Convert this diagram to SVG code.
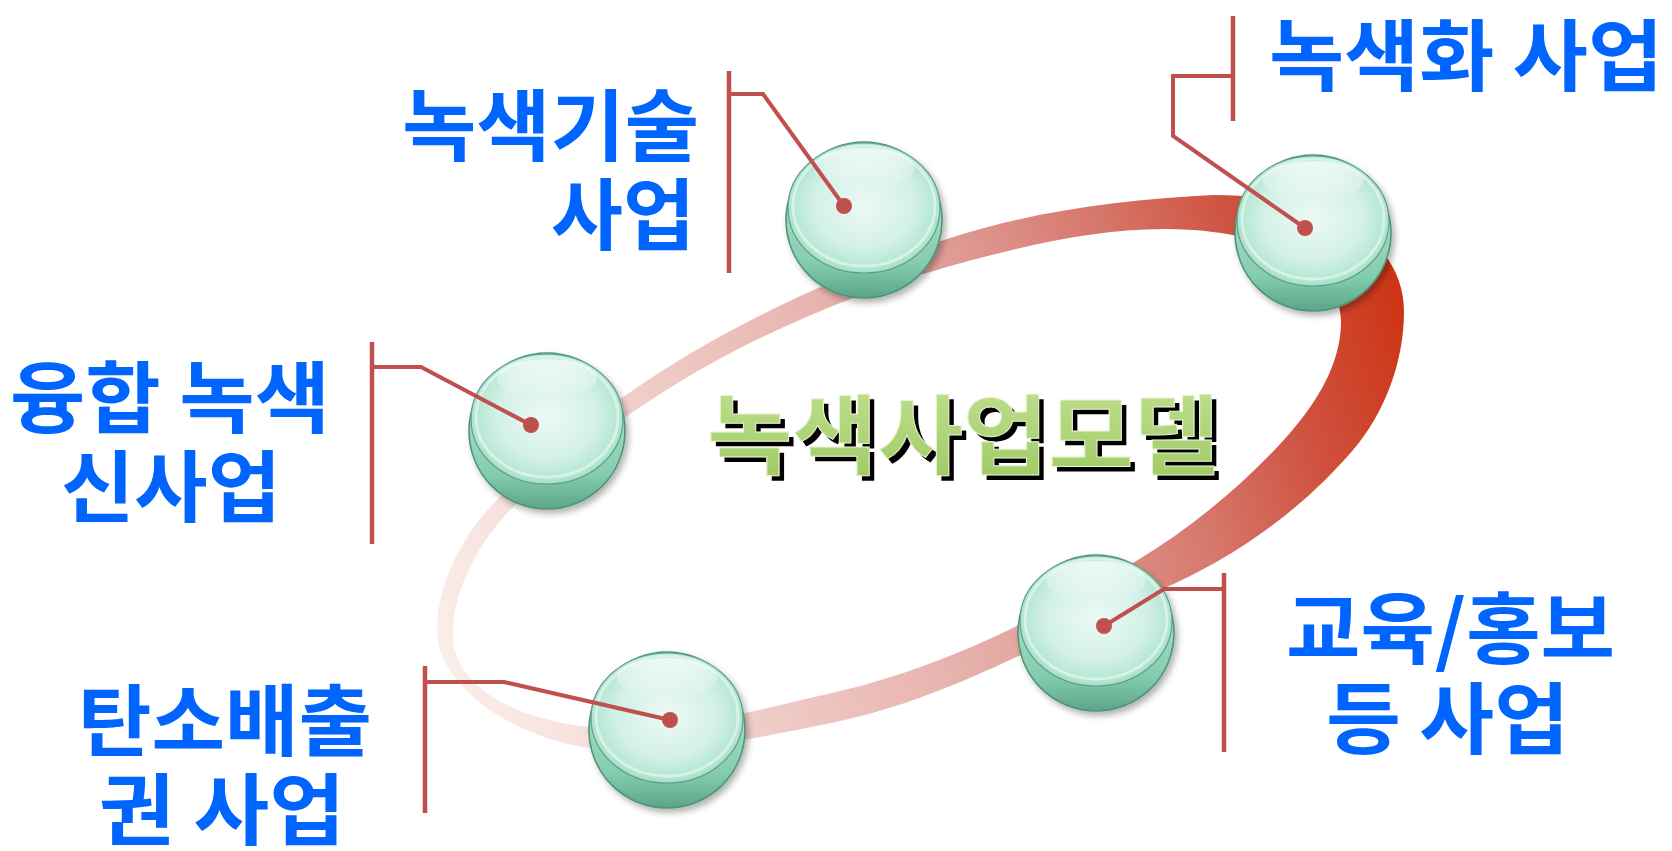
<svg xmlns="http://www.w3.org/2000/svg" width="1672" height="851" viewBox="0 0 1672 851">
<defs>
<style>
.lbl{font-family:"Noto Sans CJK KR","Noto Sans",sans-serif;font-weight:700;font-size:78px;fill:#0064ff}
.ttl{font-family:"Noto Sans CJK KR","Noto Sans",sans-serif;font-weight:700;font-size:87px}
.bar{stroke:#c0504d;stroke-width:4.5;fill:none}
.lead{fill:none;stroke:#c0504d;stroke-width:4;stroke-linejoin:miter}
.dot{fill:#c0504d}
</style>
<linearGradient id="ringG" gradientUnits="userSpaceOnUse" x1="440" y1="640" x2="1400" y2="300">
<stop offset="0" stop-color="#fbede9"/>
<stop offset="0.25" stop-color="#f1cfca"/>
<stop offset="0.45" stop-color="#e8b5af"/>
<stop offset="0.6" stop-color="#df9c95"/>
<stop offset="0.75" stop-color="#d6766a"/>
<stop offset="0.87" stop-color="#cf5240"/>
<stop offset="1" stop-color="#cc3515"/>
</linearGradient>
<linearGradient id="baseG" x1="0" y1="0" x2="0" y2="1">
<stop offset="0" stop-color="#c8eddf"/>
<stop offset="0.78" stop-color="#84ccaf"/>
<stop offset="1" stop-color="#5ca586"/>
</linearGradient>
<radialGradient id="capG" cx="0.5" cy="0.48" r="0.55">
<stop offset="0" stop-color="#ecf9f4"/>
<stop offset="0.6" stop-color="#d3f1e6"/>
<stop offset="0.88" stop-color="#b2e5d1"/>
<stop offset="1" stop-color="#9ad8c0"/>
</radialGradient>
<linearGradient id="hiG" x1="0" y1="0" x2="0" y2="1">
<stop offset="0" stop-color="#ffffff" stop-opacity="0.75"/>
<stop offset="1" stop-color="#ffffff" stop-opacity="0"/>
</linearGradient>
<linearGradient id="ttlG" x1="0" y1="0" x2="0" y2="1">
<stop offset="0" stop-color="#c4e296"/>
<stop offset="1" stop-color="#9cc860"/>
</linearGradient>
<filter id="sh" x="-20%" y="-20%" width="150%" height="150%">
<feDropShadow dx="3" dy="4" stdDeviation="3" flood-color="#000000" flood-opacity="0.3"/>
</filter>
<g id="ball">
<circle r="78" fill="url(#baseG)" stroke="#4e9479" stroke-width="1.6"/>
<ellipse cy="-12" rx="76" ry="65" fill="url(#capG)" stroke="#5f9f86" stroke-width="1.2"/>
<ellipse cy="-14" rx="71" ry="60" fill="none" stroke="#ffffff" stroke-opacity="0.45" stroke-width="3"/>
<ellipse cy="-52" rx="50" ry="20" fill="url(#hiG)"/>
</g>
</defs>
<rect width="1672" height="851" fill="#ffffff"/>

<g id="ring">
<path fill="url(#ringG)" fill-rule="evenodd" d="M437,630 C437,581 465,531 500,497 C539,460 582,426 626,395 C723,327 834,276 947,239 C1032,211 1123,199.5 1213,195 C1330,195 1404,240 1404,312 C1404,361 1385,413 1353,450 C1302,510 1233,559 1160,590 C1052,636 952,698 836,722 C756,738 670,758 590,748 C520,739 437,690 437,630 Z M453,635 C453,586 482,537 517,503 C552,470 591,441 630,414 C725,348 835,299 947,267 C1033,243 1125,221 1213,232 C1283,240.5 1341,272 1341,322 C1341,363 1317,402 1290,433 C1245,484 1191.5,528 1133,563 C1040,618 941,668 836,692 C755.5,710 672,735 590,727 C515,719.5 453,686 453,635 Z"/>
</g>

<g id="title">
<text class="ttl" x="712" y="473" textLength="512" lengthAdjust="spacingAndGlyphs" fill="#000000">녹색사업모델</text>
<text class="ttl" x="707" y="468" textLength="512" lengthAdjust="spacingAndGlyphs" fill="url(#ttlG)" stroke="#e6f3cf" stroke-width="1">녹색사업모델</text>
</g>

<g id="node-green-tech">
<use href="#ball" x="864" y="220" filter="url(#sh)"/>
<text class="lbl" x="402" y="155" textLength="297" lengthAdjust="spacingAndGlyphs">녹색기술</text>
<text class="lbl" x="551" y="244" textLength="144" lengthAdjust="spacingAndGlyphs">사업</text>
</g>

<g id="node-greening">
<use href="#ball" x="1313" y="233" filter="url(#sh)"/>
<text class="lbl" x="1269" y="85" textLength="394" lengthAdjust="spacingAndGlyphs">녹색화 사업</text>
</g>

<g id="node-convergence">
<use href="#ball" x="547" y="431" filter="url(#sh)"/>
<text class="lbl" x="10" y="427" textLength="320" lengthAdjust="spacingAndGlyphs">융합 녹색</text>
<text class="lbl" x="61" y="516" textLength="220" lengthAdjust="spacingAndGlyphs">신사업</text>
</g>

<g id="node-carbon">
<use href="#ball" x="667" y="730" filter="url(#sh)"/>
<text class="lbl" x="78" y="750" textLength="294" lengthAdjust="spacingAndGlyphs">탄소배출</text>
<text class="lbl" x="99" y="839" textLength="246" lengthAdjust="spacingAndGlyphs">권 사업</text>
</g>

<g id="node-education">
<use href="#ball" x="1096" y="633" filter="url(#sh)"/>
<text class="lbl" x="1286" y="658" textLength="329" lengthAdjust="spacingAndGlyphs">교육/홍보</text>
<text class="lbl" x="1326" y="748" textLength="243" lengthAdjust="spacingAndGlyphs">등 사업</text>
</g>

<g id="connectors">
<line class="bar" x1="729" y1="71" x2="729" y2="273"/>
<polyline class="lead" points="729,94 763,94 844,206"/>
<circle class="dot" cx="844" cy="206" r="8"/>

<line class="bar" x1="1233" y1="16" x2="1233" y2="121"/>
<polyline class="lead" points="1233,76 1173,76 1173,136 1305,228"/>
<circle class="dot" cx="1305" cy="228" r="8"/>

<line class="bar" x1="372" y1="342" x2="372" y2="544"/>
<polyline class="lead" points="372,367 421,367 531,425"/>
<circle class="dot" cx="531" cy="425" r="8"/>

<line class="bar" x1="425" y1="666" x2="425" y2="813"/>
<polyline class="lead" points="425,682 504,682 670,720"/>
<circle class="dot" cx="670" cy="720" r="8"/>

<line class="bar" x1="1224" y1="573" x2="1224" y2="752"/>
<polyline class="lead" points="1224,589 1164,589 1104,626"/>
<circle class="dot" cx="1104" cy="626" r="8"/>
</g>
</svg>
